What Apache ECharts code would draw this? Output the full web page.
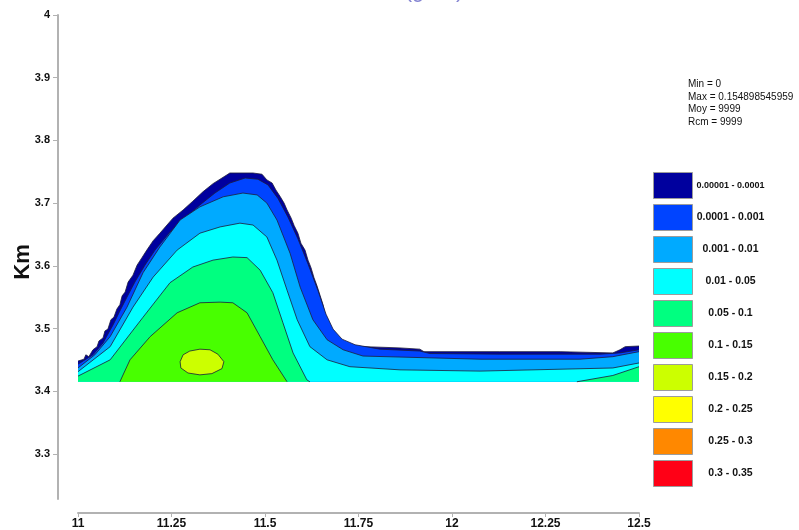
<!DOCTYPE html>
<html>
<head>
<meta charset="utf-8">
<script src="https://cdn.jsdelivr.net/npm/echarts@6/dist/echarts.min.js"></script>
<style>
  html, body { margin: 0; padding: 0; background: #ffffff; }
  #c { width: 799px; height: 530px; }
</style>
</head>
<body>
<div id="c"></div>
<script>
// Concentration classes and their colours
const bandLabels = [
  '0.00001 - 0.0001', '0.0001 - 0.001', '0.001 - 0.01', '0.01 - 0.05', '0.05 - 0.1',
  '0.1 - 0.15', '0.15 - 0.2', '0.2 - 0.25', '0.25 - 0.3', '0.3 - 0.35'
];
const bandColors = [
  '#00009e', '#0044ff', '#00aaff', '#00ffff', '#00ff80',
  '#48ff00', '#ccff00', '#ffff00', '#ff8800', '#ff0016'
];
const yTicks = [3.3, 3.4, 3.5, 3.6, 3.7, 3.8, 3.9, 4];
const xTicks = [11, 11.25, 11.5, 11.75, 12, 12.25, 12.5];
const statLines = ['Min = 0', 'Max = 0.154898545959', 'Moy = 9999', 'Rcm = 9999'];
const titleText = 'Concentration au sol (g/m²)';

// Lower edge of the computed field (Km)
const fieldBase = 3.415;

// Iso-lines (x in degrees, y in Km), each running from left to right
const iso00001 = [
  [11.000, 3.448], [11.016, 3.451], [11.021, 3.458], [11.029, 3.455], [11.040, 3.466],
  [11.051, 3.471], [11.056, 3.480], [11.067, 3.485], [11.072, 3.496], [11.080, 3.499],
  [11.088, 3.514], [11.096, 3.518], [11.104, 3.531], [11.112, 3.538], [11.118, 3.552],
  [11.126, 3.558], [11.134, 3.574], [11.147, 3.585], [11.158, 3.601], [11.171, 3.613],
  [11.184, 3.625], [11.201, 3.640], [11.219, 3.652], [11.238, 3.665], [11.254, 3.676],
  [11.281, 3.689], [11.307, 3.703], [11.334, 3.718], [11.361, 3.731], [11.385, 3.740],
  [11.406, 3.748], [11.468, 3.748], [11.492, 3.746], [11.505, 3.737], [11.519, 3.732],
  [11.529, 3.721], [11.540, 3.711], [11.551, 3.700], [11.559, 3.689], [11.570, 3.676],
  [11.578, 3.664], [11.588, 3.652], [11.596, 3.636], [11.607, 3.625], [11.615, 3.609],
  [11.623, 3.597], [11.631, 3.581], [11.639, 3.568], [11.647, 3.553], [11.655, 3.538],
  [11.663, 3.517], [11.674, 3.501], [11.687, 3.490], [11.709, 3.477], [11.733, 3.472],
  [11.767, 3.471], [11.861, 3.469], [11.914, 3.467], [11.925, 3.463], [12.128, 3.463],
  [12.289, 3.463], [12.430, 3.461], [12.449, 3.466], [12.463, 3.471], [12.500, 3.472]
];
const iso0001 = [
  [11.000, 3.443], [11.040, 3.458], [11.067, 3.477], [11.094, 3.506], [11.112, 3.528],
  [11.131, 3.550], [11.152, 3.574], [11.179, 3.601], [11.206, 3.625], [11.246, 3.654],
  [11.286, 3.676], [11.326, 3.697], [11.366, 3.716], [11.406, 3.732], [11.447, 3.740],
  [11.481, 3.738], [11.508, 3.729], [11.535, 3.707], [11.561, 3.678], [11.588, 3.643],
  [11.615, 3.603], [11.642, 3.560], [11.663, 3.523], [11.682, 3.499], [11.706, 3.483],
  [11.741, 3.474], [11.807, 3.467], [11.914, 3.464], [11.941, 3.460], [12.128, 3.459],
  [12.396, 3.459], [12.449, 3.461], [12.500, 3.466]
];
const iso001 = [
  [11.000, 3.437], [11.045, 3.458], [11.086, 3.487], [11.131, 3.534], [11.174, 3.589],
  [11.219, 3.630], [11.273, 3.673], [11.326, 3.694], [11.388, 3.710], [11.441, 3.716],
  [11.479, 3.713], [11.505, 3.700], [11.532, 3.673], [11.567, 3.620], [11.594, 3.566],
  [11.628, 3.514], [11.666, 3.482], [11.709, 3.466], [11.762, 3.456], [12.075, 3.451],
  [12.342, 3.451], [12.430, 3.455], [12.500, 3.463]
];
const iso01 = [
  [11.000, 3.431], [11.086, 3.471], [11.147, 3.534], [11.201, 3.582], [11.265, 3.625],
  [11.326, 3.652], [11.380, 3.662], [11.433, 3.668], [11.468, 3.665], [11.505, 3.646],
  [11.532, 3.609], [11.559, 3.561], [11.586, 3.514], [11.620, 3.471], [11.666, 3.450],
  [11.727, 3.439], [11.861, 3.434], [12.075, 3.432], [12.430, 3.437], [12.500, 3.445]
];
const iso05West = [
  [11.000, 3.424], [11.086, 3.450], [11.174, 3.518], [11.246, 3.573], [11.307, 3.598],
  [11.361, 3.609], [11.414, 3.614], [11.452, 3.613], [11.487, 3.593], [11.521, 3.557],
  [11.548, 3.509], [11.575, 3.461], [11.612, 3.418], [11.620, 3.415]
];
const iso05East = [
  [12.334, 3.415], [12.430, 3.425], [12.500, 3.439]
];
const iso10 = [
  [11.112, 3.415], [11.139, 3.450], [11.193, 3.487], [11.265, 3.525], [11.326, 3.541],
  [11.380, 3.542], [11.414, 3.541], [11.452, 3.525], [11.487, 3.487], [11.521, 3.450],
  [11.559, 3.415]
];
// Closed iso-line around the maximum
const iso15 = [
  [11.273, 3.447], [11.281, 3.458], [11.299, 3.464], [11.326, 3.467], [11.353, 3.466],
  [11.374, 3.459], [11.390, 3.447], [11.385, 3.436], [11.358, 3.428], [11.326, 3.426],
  [11.294, 3.429], [11.275, 3.437]
];

// Close an open iso-line down to the lower edge of the field
function toBase(line) {
  const a = line[0], b = line[line.length - 1];
  return line.concat([[b[0], fieldBase], [a[0], fieldBase]]);
}

const bands = [
  { fills: [toBase(iso00001)], lines: [iso00001] },
  { fills: [toBase(iso0001)], lines: [iso0001] },
  { fills: [toBase(iso001)], lines: [iso001] },
  { fills: [toBase(iso01)], lines: [iso01] },
  { fills: [toBase(iso05West), toBase(iso05East)], lines: [iso05West, iso05East] },
  { fills: [toBase(iso10)], lines: [iso10] },
  { fills: [iso15], lines: [iso15.concat([iso15[0]])] },
  { fills: [], lines: [] },
  { fills: [], lines: [] },
  { fills: [], lines: [] }
];

const FONT = 'Liberation Sans, Arial, Helvetica, sans-serif';
const AXIS_GREY = '#b2b2b2';

const series = bandLabels.map((name, i) => {
  const band = bands[i];
  return {
    type: 'custom',
    name: name,
    coordinateSystem: 'cartesian2d',
    silent: true,
    animation: false,
    itemStyle: { color: bandColors[i] },
    data: band.fills.map((poly, k) => [poly[0][0], poly[0][1], k]),
    renderItem: function (params, api) {
      const k = api.value(2);
      return {
        type: 'group',
        children: [
          {
            type: 'polygon',
            shape: { points: band.fills[k].map(p => api.coord(p)) },
            style: { fill: bandColors[i], stroke: null }
          },
          {
            type: 'polyline',
            shape: { points: band.lines[k].map(p => api.coord(p)) },
            style: { fill: null, stroke: '#1d1d3a', lineWidth: 0.8 }
          }
        ]
      };
    }
  };
});

const chart = echarts.init(document.getElementById('c'));
chart.setOption({
  animation: false,
  backgroundColor: '#ffffff',
  grid: { left: 78, right: 160, top: 15, bottom: 31, outerBoundsMode: 'none', containLabel: false },
  xAxis: {
    type: 'value',
    min: 11, max: 12.5, interval: 0.25,
    offset: 14,
    axisLine: { show: true, lineStyle: { color: AXIS_GREY, width: 2 } },
    axisTick: { show: true, length: 4, customValues: xTicks, lineStyle: { color: AXIS_GREY, width: 1 } },
    axisLabel: {
      customValues: xTicks,
      margin: 5, color: '#111', fontFamily: FONT, fontWeight: 'bold', fontSize: 12
    },
    splitLine: { show: false }
  },
  yAxis: {
    type: 'value',
    min: 3.228, max: 4,
    offset: 20,
    name: 'Km',
    nameLocation: 'middle',
    nameGap: 24,
    nameMoveOverlap: false,
    nameTextStyle: { color: '#111', fontFamily: FONT, fontWeight: 'bold', fontSize: 22, padding: [0, 10, 0, 0] },
    axisLine: { show: true, lineStyle: { color: AXIS_GREY, width: 2 } },
    axisTick: { show: true, length: 5, customValues: yTicks, lineStyle: { color: AXIS_GREY, width: 1 } },
    axisLabel: {
      customValues: yTicks,
      margin: 8, color: '#111', fontFamily: FONT, fontWeight: 'bold', fontSize: 11
    },
    splitLine: { show: false }
  },
  legend: {
    orient: 'vertical',
    left: 653, top: 172,
    padding: 0,
    itemWidth: 39, itemHeight: 26, itemGap: 5,
    icon: 'rect',
    selectedMode: false,
    formatter: n => '{c|' + n + '}',
    textStyle: {
      color: '#111', fontFamily: FONT, fontWeight: 'bold', fontSize: 10.5,
      rich: { c: { width: 66, align: 'center' } }
    },
    data: bandLabels.map((n, i) => ({
      name: n,
      itemStyle: { color: bandColors[i], borderColor: '#9c9c9c', borderWidth: 1 },
      textStyle: i === 0 ? { fontSize: 9 } : {}
    }))
  },
  graphic: [
    {
      type: 'text', left: 688, top: 78, silent: true,
      style: {
        text: statLines.join('\n'), fill: '#111', font: '10px ' + FONT, lineHeight: 12.6
      }
    },
    {
      type: 'text', x: 330, y: 2, silent: true,
      style: {
        text: titleText, fill: '#8484d2', font: '22px ' + FONT,
        textAlign: 'center', textVerticalAlign: 'bottom'
      }
    }
  ],
  series: series
});
</script>
</body>
</html>
